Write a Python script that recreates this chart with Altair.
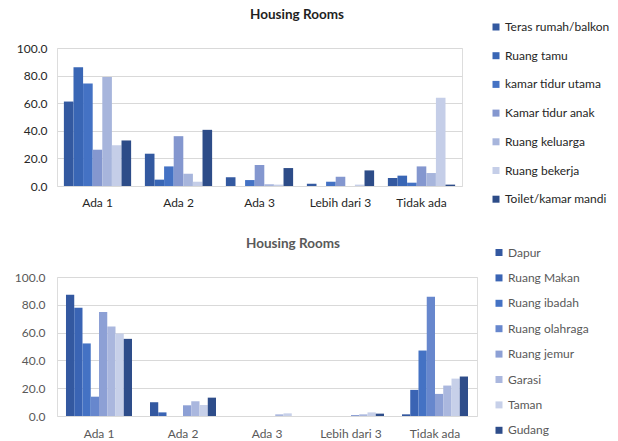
import altair as alt
import pandas as pd

categories = ["Ada 1", "Ada 2", "Ada 3", "Lebih dari 3", "Tidak ada"]

top_series = ["Teras rumah/balkon", "Ruang tamu", "kamar tidur utama",
              "Kamar tidur anak", "Ruang keluarga", "Ruang bekerja",
              "Toilet/kamar mandi"]
top_colors = ["#3359A0", "#3966B5", "#4472C4", "#8497CF", "#A7B5DC",
              "#C5CEE8", "#2D4C88"]
teras = [61.2, 23.4, 6.3, 1.7, 5.8]
ruang_tamu = [86.0, 4.6, 0.0, 0.0, 7.5]
kamar_utama = [74.2, 14.2, 4.3, 3.1, 2.4]
kamar_anak = [26.3, 36.1, 15.2, 6.7, 14.2]
ruang_keluarga = [79.0, 8.9, 1.2, 0.0, 9.4]
ruang_bekerja = [29.6, 3.1, 1.0, 1.0, 63.9]
toilet = [33.0, 40.7, 13.0, 11.3, 1.0]
top_values = [teras, ruang_tamu, kamar_utama, kamar_anak, ruang_keluarga,
              ruang_bekerja, toilet]

bottom_series = ["Dapur", "Ruang Makan", "Ruang ibadah", "Ruang olahraga",
                 "Ruang jemur", "Garasi", "Taman", "Gudang"]
bottom_colors = ["#3358A0", "#3A64B4", "#4472C4", "#6787CD", "#8DA0D5",
                 "#AAB7DE", "#C7D0E9", "#2E4D8A"]
dapur = [87.3, 9.9, 0.0, 0.0, 1.2]
ruang_makan = [77.9, 2.6, 0.0, 0.0, 18.8]
ruang_ibadah = [52.2, 0.0, 0.0, 0.0, 47.1]
ruang_olahraga = [13.9, 0.0, 0.0, 0.0, 85.8]
ruang_jemur = [74.8, 7.7, 0.0, 0.7, 15.9]
garasi = [64.4, 10.6, 1.2, 1.2, 21.9]
taman = [59.4, 7.9, 1.9, 2.6, 26.9]
gudang = [55.5, 13.2, 0.0, 1.7, 28.4]
bottom_values = [dapur, ruang_makan, ruang_ibadah, ruang_olahraga,
                 ruang_jemur, garasi, taman, gudang]

y_ticks = [0, 20, 40, 60, 80, 100]

FONT = "Lato"


def build(series, colors, values, text_color, title_color, width, height,
          pad_inner, pad_outer, xlab_pad, ylab_pad, title_dx, title_offset,
          leg_x, leg_y, row_pad):
    rows = []
    for s, vals in zip(series, values):
        for c, v in zip(categories, vals):
            rows.append({"cat": c, "series": s, "value": v})
    df = pd.DataFrame(rows)
    return alt.Chart(df).mark_bar().encode(
        x=alt.X("cat:N", sort=categories,
                scale=alt.Scale(paddingInner=pad_inner, paddingOuter=pad_outer),
                axis=alt.Axis(title=None, labelAngle=0, ticks=False,
                              domain=False, labelPadding=xlab_pad,
                              labelFontSize=12, labelColor=text_color,
                              labelFont=FONT)),
        xOffset=alt.XOffset("series:N", sort=series,
                            scale=alt.Scale(paddingInner=0, paddingOuter=0)),
        y=alt.Y("value:Q", scale=alt.Scale(domain=[0, 100], nice=False),
                axis=alt.Axis(title=None, values=y_ticks, format=".1f",
                              ticks=False, domain=False, gridColor="#D9D9D9",
                              gridWidth=1, labelPadding=ylab_pad,
                              labelFontSize=12, labelColor=text_color,
                              labelFont=FONT)),
        color=alt.Color("series:N", sort=series,
                        scale=alt.Scale(domain=series, range=colors),
                        legend=alt.Legend(title=None, orient="none",
                                          legendX=leg_x, legendY=leg_y,
                                          symbolType="square", symbolSize=49,
                                          symbolStrokeWidth=0,
                                          labelFontSize=12, labelFont=FONT,
                                          labelColor=text_color,
                                          labelOffset=3, rowPadding=row_pad,
                                          labelLimit=200)),
    ).properties(
        width=width, height=height,
        title=alt.TitleParams("Housing Rooms", fontSize=13.5, font=FONT,
                              fontWeight="bold", color=title_color,
                              anchor="middle", dx=title_dx,
                              offset=title_offset),
    )


top = build(top_series, top_colors, top_values, "#262626", "#1F1F1F", 405,
            138, 0.17, 0.085, 11, 10, 37.5, 0, 433, -27, 16.7)
bottom = build(bottom_series, bottom_colors, bottom_values, "#595959",
               "#595959", 420, 139, 0.214, 0.107, 12, 12, 26, -4, 436, -30.5,
               13.4)

chart = alt.ConcatChart(
    concat=[top, bottom], columns=1, align="none", spacing=27,
).resolve_scale(color="independent", x="independent", y="independent",
                xOffset="independent").configure_view(stroke=None).configure(
    padding={"left": 13, "top": 7, "right": 0, "bottom": 0},
    background="white", font=FONT,
)

chart.save("out.html", embed_options={"renderer": "svg", "actions": False})
